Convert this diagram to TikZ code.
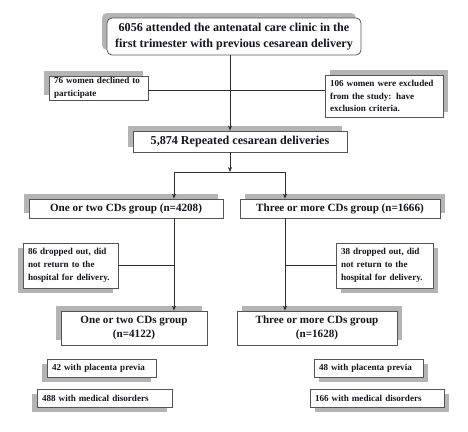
\documentclass[tikz,border=0pt]{standalone}
\usepackage{fontspec}
\setmainfont{Liberation Serif}
\usetikzlibrary{positioning, arrows.meta, shadows}
\definecolor{boxgray}{RGB}{85, 85, 85}
\definecolor{shadowgray}{RGB}{180, 180, 180}
\definecolor{inkdark}{RGB}{20, 20, 32}
\definecolor{linegray}{RGB}{45, 45, 45}
\tikzset{
  flowbox/.style={
    draw=boxgray,
    line width=0.8pt,
    fill=white,
    inner sep=0pt,
    align=center,
    text=inkdark,
    font=\bfseries\fontsize{11.1}{13.5}\selectfont
  },
  bigbox/.style={
    flowbox,
    font=\bfseries\fontsize{12.1}{16.5}\selectfont
  },
  notebox/.style={
    flowbox,
    align=left,
    inner xsep=5pt,
    font=\bfseries\fontsize{9.1}{12.8}\selectfont
  },
  shade NW/.style={general shadow={shadow xshift=-5pt, shadow yshift=5pt, fill=shadowgray}},
  shade NE/.style={general shadow={shadow xshift=5pt, shadow yshift=5pt, fill=shadowgray}},
  shade SW/.style={general shadow={shadow xshift=-5pt, shadow yshift=-5pt, fill=shadowgray}},
  shade SE/.style={general shadow={shadow xshift=5pt, shadow yshift=-5pt, fill=shadowgray}},
  flowline/.style={
    draw=linegray,
    line width=0.7pt
  },
  flowarrow/.style={
    flowline,
    -{Stealth[length=5pt, width=4pt]}
  }
}

\begin{document}
\begin{tikzpicture}[x=1pt, y=-1pt]
  \useasboundingbox (0, 0) rectangle (468, 431);

  % screening
  \node[bigbox, rounded corners=5pt, shade NW, minimum width=254pt, minimum height=37pt] (attended) at (234, 36.5)
    {6056 attended the antenatal care clinic in the\\first trimester with previous cesarean delivery};
  \node[notebox, shade NW, text width=89pt, minimum height=24pt] (declined) at (98.5, 88)
    {76 women declined to\\participate};
  \node[notebox, shade NE, text width=108pt, minimum height=42pt] (excluded) at (384, 96)
    {106 women were excluded\\from the study: have\\exclusion criteria.};
  \node[bigbox, shade NW, minimum width=214pt, minimum height=21pt] (repeated) at (240, 141.5)
    {5,874 Repeated cesarean deliveries};

  % groups
  \node[flowbox, shade NW, minimum width=194pt, minimum height=19pt] (groupA) at (126, 208.5)
    {One or two CDs group (n=4208)};
  \node[flowbox, shade NE, minimum width=200pt, minimum height=19pt] (groupB) at (340, 208.5)
    {Three or more CDs group (n=1666)};
  \node[notebox, shade SW, text width=85pt, minimum height=45pt] (dropA) at (70.5, 265.5)
    {86 dropped out, did\\not return to the\\hospital for delivery.};
  \node[notebox, shade SE, text width=87pt, minimum height=45pt] (dropB) at (384.5, 265.5)
    {38 dropped out, did\\not return to the\\hospital for delivery.};
  \node[flowbox, shade NW, minimum width=146pt, minimum height=34pt] (finalA) at (134, 328)
    {One or two CDs group\\(n=4122)};
  \node[flowbox, shade NE, minimum width=160pt, minimum height=34pt] (finalB) at (317, 328)
    {Three or more CDs group\\(n=1628)};

  % outcomes
  \node[notebox, shade SW, text width=99pt, minimum height=18pt] (previaA) at (101.5, 368) {42 with placenta previa};
  \node[notebox, shade SW, text width=125pt, minimum height=18pt] (medA) at (104.5, 398) {488 with medical disorders};
  \node[notebox, shade SE, text width=99pt, minimum height=18pt] (previaB) at (368.5, 368) {48 with placenta previa};
  \node[notebox, shade SE, text width=124pt, minimum height=18pt] (medB) at (377, 398) {166 with medical disorders};

  % connectors
  \coordinate (cut) at (230, 90);
  \coordinate (split) at (230, 172);
  \coordinate (branchA) at (174, 172);
  \coordinate (branchB) at (285, 172);

  \draw[flowarrow] (cut |- attended.south) -- (cut |- repeated.north);
  \draw[flowline] (declined.east |- cut) -- (excluded.west |- cut);
  \draw[flowarrow] (cut |- repeated.south) -- (split);
  \draw[flowline] (branchA) -- (branchB);
  \draw[flowarrow] (branchA) -- (branchA |- groupA.north);
  \draw[flowarrow] (branchB) -- (branchB |- groupB.north);
  \draw[flowarrow] (branchA |- groupA.south) -- (branchA |- finalA.north);
  \draw[flowarrow] (branchB |- groupB.south) -- (branchB |- finalB.north);
  \draw[flowline] (dropA.east) -- (branchA |- dropA.east);
  \draw[flowline] (branchB |- dropB.west) -- (dropB.west);
\end{tikzpicture}
\end{document}
